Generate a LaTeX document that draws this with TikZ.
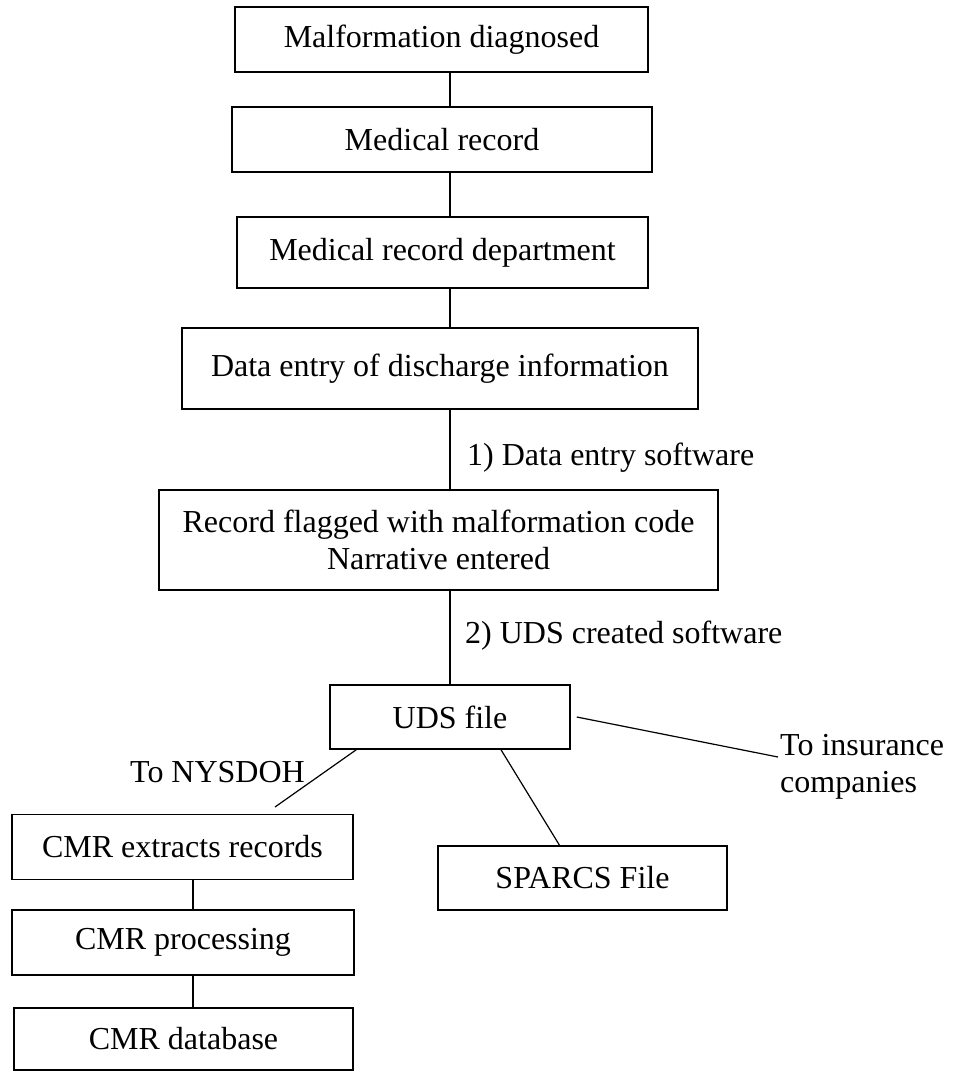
\documentclass[tikz,border=0pt]{standalone}
\usepackage{fontspec}
\setmainfont{Liberation Serif}

\begin{document}
\begin{tikzpicture}[x=1pt,y=-1pt,%
    every node/.style={font=\fontsize{32}{37}\selectfont},%
    stage/.style={draw,line width=1.5pt,inner sep=0pt,align=center},%
    tag/.style={inner sep=2pt,align=left},%
    link/.style={line width=1.2pt}]
  \useasboundingbox (0,0) rectangle (960,1072);
  \node[stage,minimum width=413pt,minimum height=65pt] (diag) at (441.5,39.5) {Malformation diagnosed};
  \node[stage,minimum width=420pt,minimum height=65pt] (medrec) at (442,139.5) {Medical record};
  \node[stage,minimum width=411pt,minimum height=71pt] (dept) at (442.5,252.5) {Medical record department};
  \node[stage,minimum width=516pt,minimum height=81pt] (entry) at (440,368.5) {Data entry of discharge information};
  \node[stage,minimum width=559pt,minimum height=100pt] (flag) at (438.5,540) {Record flagged with malformation code\\Narrative entered};
  \node[stage,minimum width=240pt,minimum height=64pt] (uds) at (450,717) {UDS file};
  \node[stage,minimum width=341pt,minimum height=65pt] (extract) at (182.5,847) {CMR extracts records};
  \node[stage,minimum width=342pt,minimum height=65pt] (proc) at (183,942.5) {CMR processing};
  \node[stage,minimum width=339pt,minimum height=62pt] (cmrdb) at (183.5,1039) {CMR database};
  \node[stage,minimum width=289pt,minimum height=64pt] (sparcs) at (582.5,878) {SPARCS File};

  \node[tag,anchor=west] (soft1) at (465,458) {1) Data entry software};
  \node[tag,anchor=west] (soft2) at (463,636) {2) UDS created software};
  \node[tag] (nys) at (217.5,772) {To NYSDOH};
  \node[tag,anchor=west] (insure) at (778,767) {To insurance\\companies};

  \coordinate (cmrx) at (193,0);
  \coordinate (nysend) at (275,807);

  \draw[link] (diag.south -| uds.north) -- (medrec.north -| uds.north);
  \draw[link] (medrec.south -| uds.north) -- (dept.north -| uds.north);
  \draw[link] (dept.south -| uds.north) -- (entry.north -| uds.north);
  \draw[link] (entry.south -| uds.north) -- (flag.north -| uds.north);
  \draw[link] (flag.south -| uds.north) -- (uds.north);
  \draw[link] ([xshift=27pt]uds.south west) -- (nysend);
  \draw[link] ([xshift=51pt]uds.south) -- ([xshift=-23pt]sparcs.north);
  \draw[link] ([xshift=6pt]uds.east) -- ([yshift=10pt]insure.west);
  \draw[link] (extract.south -| cmrx) -- (proc.north -| cmrx);
  \draw[link] (proc.south -| cmrx) -- (cmrdb.north -| cmrx);
\end{tikzpicture}
\end{document}
